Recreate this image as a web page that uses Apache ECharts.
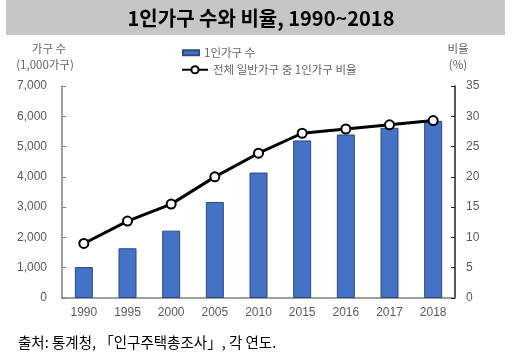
<!DOCTYPE html>
<html><head><meta charset="utf-8">
<script src="https://cdn.jsdelivr.net/npm/echarts@6/dist/echarts.min.js"></script>
<style>html,body{margin:0;padding:0;background:#fff}#c{width:522px;height:360px}</style>
</head><body><div id="c"></div>
<script>
const years = ['1990','1995','2000','2005','2010','2015','2016','2017','2018'];
const households = [1021, 1642, 2224, 3171, 4142, 5203, 5398, 5619, 5849];
const ratio = [9.0, 12.7, 15.5, 20.0, 23.9, 27.2, 27.9, 28.6, 29.3];
const leftTicks = [0, 7000, 1000];
const rightTicks = [0, 35, 5];
const seriesNames = ['1인가구 수', '전체 일반가구 중 1인가구 비율'];

const KR = '"Noto Sans CJK KR", sans-serif';
const chart = echarts.init(document.getElementById('c'), null, {renderer:'canvas'});
chart.setOption({
  animation:false,
  backgroundColor:'#fff',
  graphic:[
    {type:'rect', shape:{x:6,y:0,width:499,height:35}, style:{fill:'#c6c6c6'}, z:-1},
    {type:'text', x:261, y:18, style:{text:'1인가구 수와 비율, 1990~2018', font:'bold 20px "Noto Sans CJK KR", sans-serif', fill:'#000', align:'center', verticalAlign:'middle'}},
    {type:'text', x:49, y:49, style:{text:'가구 수', font:'11.5px "Noto Sans CJK KR", sans-serif', fill:'#666', align:'center', verticalAlign:'middle'}},
    {type:'text', x:45, y:65, style:{text:'(1,000가구)', font:'11.5px "Noto Sans CJK KR", sans-serif', fill:'#666', align:'center', verticalAlign:'middle'}},
    {type:'text', x:458, y:49, style:{text:'비율', font:'11.5px "Noto Sans CJK KR", sans-serif', fill:'#666', align:'center', verticalAlign:'middle'}},
    {type:'text', x:458, y:65, style:{text:'(%)', font:'11.5px "Noto Sans CJK KR", sans-serif', fill:'#666', align:'center', verticalAlign:'middle'}},
    {type:'text', x:18, y:342, style:{text:'출처: 통계청, 「인구주택총조사」, 각 연도.', font:'14.5px "Noto Sans CJK KR", sans-serif', fill:'#000', align:'left', verticalAlign:'middle'}}
  ],
  legend:[
    {data:[seriesNames[0]], left:177, top:42, itemWidth:16, itemHeight:5, itemGap:4,
     textStyle:{fontFamily:KR, fontSize:11.5, color:'#666'}, icon:'rect'},
    {data:[seriesNames[1]], left:176, top:59, itemWidth:26, itemHeight:9, itemGap:3,
     textStyle:{fontFamily:KR, fontSize:11.5, color:'#666'}}
  ],
  grid:{left:62, right:67, top:86, bottom:62, containLabel:false},
  xAxis:{type:'category', data:years,
    axisLine:{lineStyle:{color:'#808080', width:1.5}},
    axisTick:{inside:true, length:3, lineStyle:{color:'#808080'}},
    axisLabel:{color:'#5a5a5a', fontSize:12, margin:9, fontFamily:'Liberation Sans, sans-serif'}},
  yAxis:[
    {type:'value', min:leftTicks[0], max:leftTicks[1], interval:leftTicks[2],
     axisLine:{show:true, lineStyle:{color:'#808080', width:1.5}},
     axisTick:{show:true, inside:true, length:4, lineStyle:{color:'#808080'}},
     splitLine:{show:false},
     axisLabel:{color:'#5a5a5a', fontSize:12, margin:15, fontFamily:'Liberation Sans, sans-serif',
       formatter:v=>v.toLocaleString('en-US')}},
    {type:'value', min:rightTicks[0], max:rightTicks[1], interval:rightTicks[2], position:'right',
     axisLine:{show:true, lineStyle:{color:'#222', width:1.5}},
     axisTick:{show:true, inside:true, length:4, lineStyle:{color:'#222'}},
     splitLine:{show:false},
     axisLabel:{color:'#5a5a5a', fontSize:12, margin:11, fontFamily:'Liberation Sans, sans-serif'}}
  ],
  series:[
    {name:seriesNames[0], type:'bar', data:households, barWidth:18, yAxisIndex:0,
     itemStyle:{color:'#4472C4', borderColor:'#2a4a80', borderWidth:1}},
    {name:seriesNames[1], type:'line', data:ratio, yAxisIndex:1,
     symbol:'circle', symbolSize:9,
     lineStyle:{color:'#000', width:3},
     itemStyle:{color:'#fff', borderColor:'#000', borderWidth:2}}
  ]
});
</script></body></html>
